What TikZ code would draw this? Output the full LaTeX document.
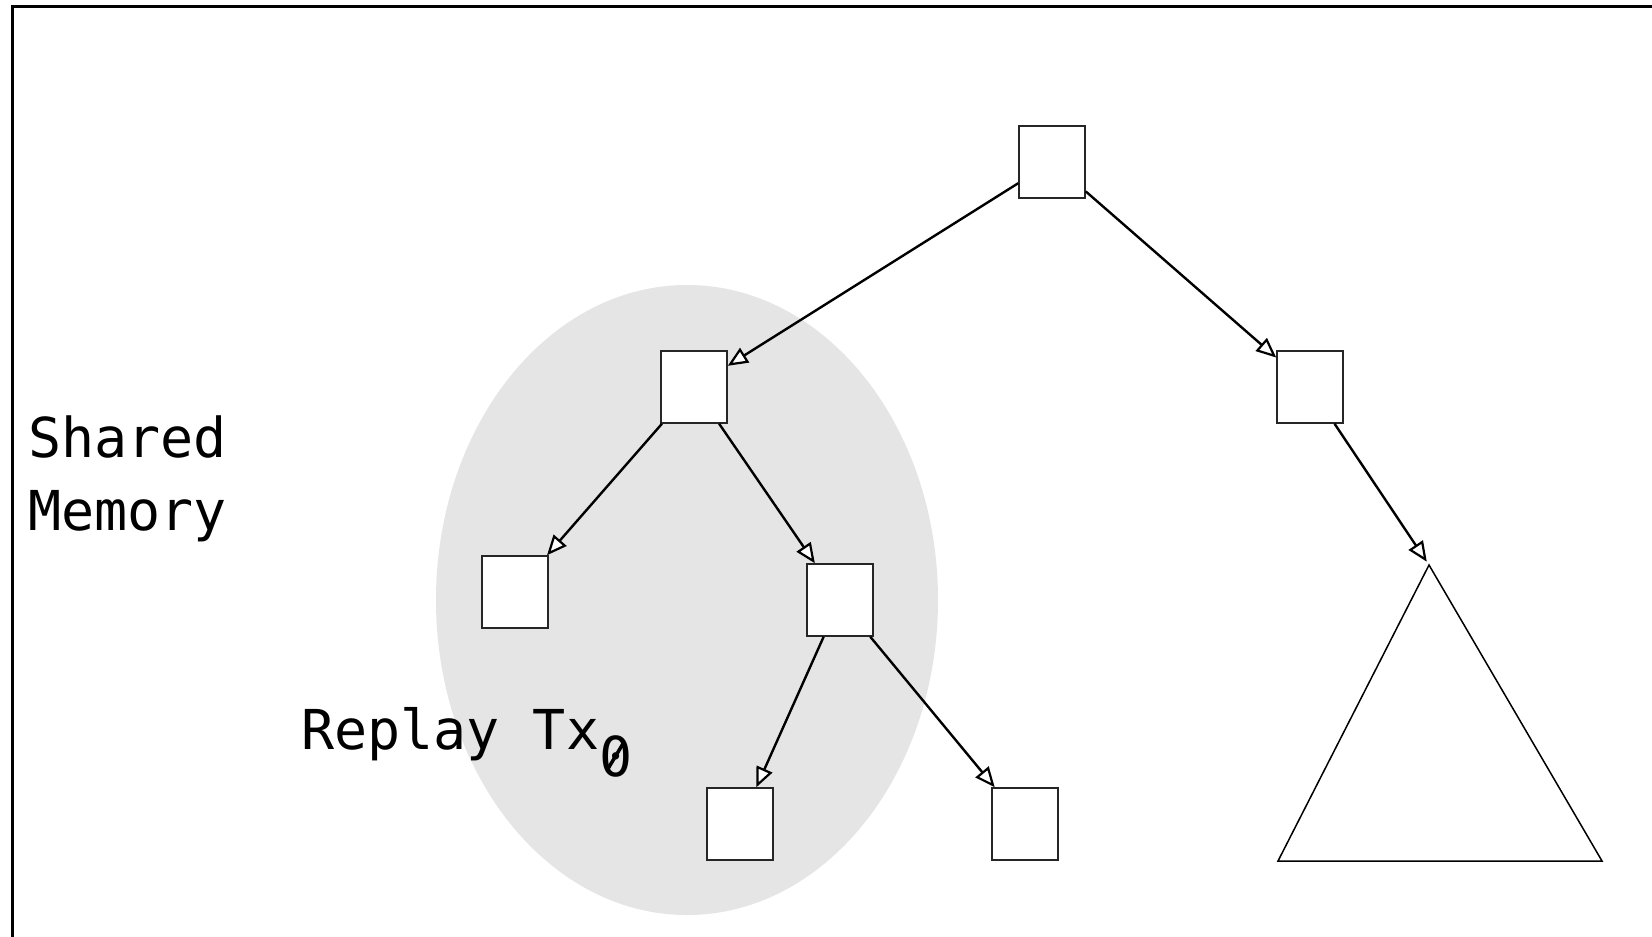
\documentclass[tikz,border=0pt]{standalone}
\usepackage{fontspec}
\setmonofont{DejaVu Sans Mono}
\usetikzlibrary{arrows.meta}
\begin{document}
\begin{tikzpicture}[x=1pt,y=-1pt,
  treenode/.style={draw=black!85,line width=1.5pt,fill=white,minimum width=66pt,minimum height=72pt,inner sep=0pt},
  link/.style={line width=2.4pt,-{Triangle[length=20pt,width=17pt,fill=white,line width=2.2pt]}},
  lbl/.style={font=\ttfamily\fontsize{55}{73}\selectfont,inner sep=0pt,anchor=base west,align=left}]
\clip (0,0) rectangle (1652,937);
\fill[white] (0,0) rectangle (1652,937);
% outer frame
\draw[line width=3pt] (12,6) rectangle (1720,1000);
% replay region
\fill[black!10] (687,600) ellipse [x radius=251, y radius=315];
% tree nodes
\node[treenode] (root) at (1052,162) {};
\node[treenode] (l) at (694,387) {};
\node[treenode] (r) at (1310,387) {};
\node[treenode] (ll) at (515,592) {};
\node[treenode] (lr) at (840,600) {};
\node[treenode] (lrl) at (740,824) {};
\node[treenode] (lrr) at (1025,824) {};
% subtree
\coordinate (apex) at (1429,565);
\draw[line width=1.5pt,line join=miter] (apex) -- (1278,861) -- (1602,861) -- cycle;
% links
\draw[link] (root) -- (l);
\draw[link] (root) -- (r);
\draw[link] (l) -- (ll);
\draw[link] (l) -- (lr);
\draw[link] (lr) -- (lrl);
\draw[link] (lr) -- (lrr);
\draw[link,shorten >=4pt] (r) -- (apex);
% labels
\node[lbl] (shared) at (28,530) {Shared\\Memory};
\node[lbl] (replay) at (301,749) {Replay Tx};
\node[lbl] (sub) at ([yshift=-27pt]replay.base east) {0};
% slashed zero
\draw[line width=3.5pt] ([shift={(9,-8)}]sub.base west) -- ([shift={(24,-33)}]sub.base west);
\end{tikzpicture}
\end{document}
